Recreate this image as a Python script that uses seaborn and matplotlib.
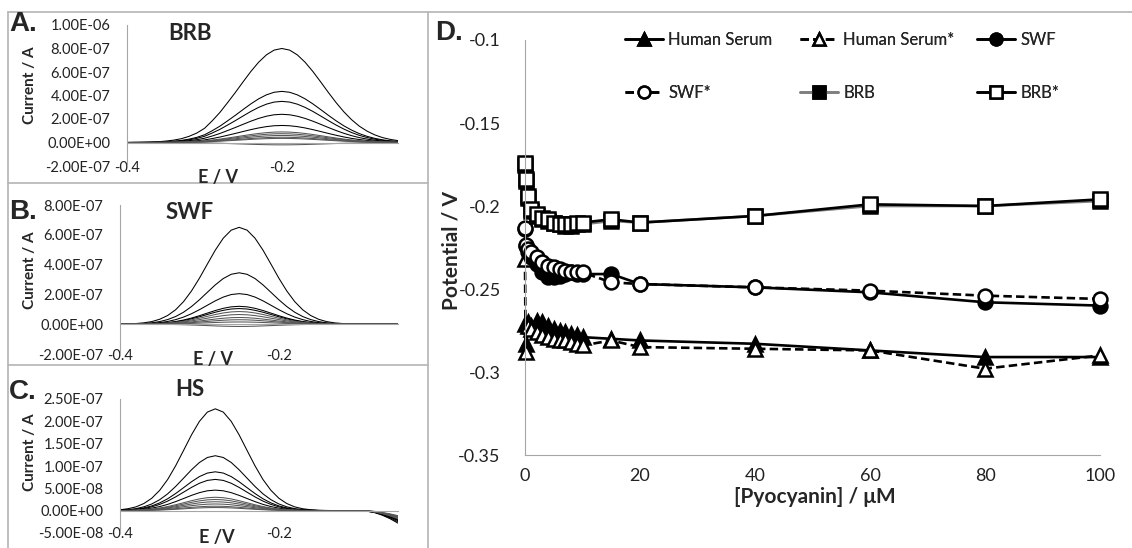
import numpy as np
import pandas as pd
import matplotlib
matplotlib.use("Agg")
import matplotlib.pyplot as plt
import matplotlib.ticker as mticker
from matplotlib.lines import Line2D
import seaborn as sns

# ---------------- panels A-C: DPV scans ----------------
e_grid = np.round(np.arange(-0.40, -0.045, 0.01), 2)   # 36 potentials, V

# normalised shape of the largest scan (E = -0.40 ... -0.05)
brb_profile = [0.000, 0.001, 0.002, 0.004, 0.008, 0.015, 0.025, 0.040, 0.065, 0.100,
               0.150, 0.230, 0.320, 0.425, 0.533, 0.646, 0.756, 0.854, 0.932, 0.983,
               1.000, 0.983, 0.932, 0.854, 0.756, 0.646, 0.533, 0.425, 0.327, 0.243,
               0.174, 0.121, 0.081, 0.052, 0.033, 0.020]
swf_profile = [0.001, 0.003, 0.007, 0.014, 0.027, 0.051, 0.090, 0.149, 0.233, 0.343,
               0.475, 0.621, 0.765, 0.888, 0.971, 1.000, 0.971, 0.888, 0.765, 0.621,
               0.475, 0.343, 0.233, 0.149, 0.090, 0.051, 0.027, 0.014, 0.007, 0.003,
               0.001, 0.000, 0.000, 0.000, 0.000, 0.000]
hs_profile = [0.009, 0.019, 0.037, 0.070, 0.122, 0.200, 0.306, 0.440, 0.591, 0.744,
              0.877, 0.968, 1.000, 0.968, 0.877, 0.744, 0.591, 0.440, 0.306, 0.200,
              0.122, 0.070, 0.037, 0.019, 0.009, 0.004, 0.002, 0.001, 0.000, 0.000,
              0.000, 0.000, 0.000, 0.000, 0.000, 0.000]
# HS scans bend down at the anodic end
hs_tail = [0.0] * 31 + [-0.1e-8, -0.4e-8, -1.0e-8, -1.8e-8, -2.8e-8]
hs_tail_scale = [1.0, 0.9, 0.8, 0.75, 0.7, 0.65, 0.6, 0.55, 0.5, 0.45, 0.4]

# peak currents, A
brb_heights = [8.0e-7, 4.35e-7, 3.5e-7, 2.4e-7, 1.45e-7, 0.9e-7, 0.75e-7, 0.6e-7, 0.45e-7, 0.35e-7, -0.2e-7]
swf_heights = [6.5e-7, 3.45e-7, 2.05e-7, 1.2e-7, 1.05e-7, 0.85e-7, 0.65e-7, 0.45e-7, 0.3e-7, 0.15e-7, -0.15e-7]
hs_heights = [2.28e-7, 1.23e-7, 0.87e-7, 0.70e-7, 0.46e-7, 0.30e-7, 0.25e-7, 0.20e-7, 0.15e-7, 0.10e-7, 0.07e-7]

# ---------------- panel D: peak potential vs concentration ----------------
conc = [0, 0.1, 0.5, 1, 2, 3, 4, 5, 6, 7, 8, 9, 10, 15, 20, 40, 60, 80, 100]
hs = [-0.271, -0.283, -0.270, -0.272, -0.269, -0.270, -0.272, -0.274, -0.275, -0.276,
      -0.277, -0.278, -0.279, -0.280, -0.281, -0.283, -0.287, -0.291, -0.291]
hs_star = [-0.232, -0.288, -0.272, -0.274, -0.276, -0.278, -0.279, -0.280, -0.281, -0.281,
           -0.282, -0.283, -0.284, -0.281, -0.285, -0.286, -0.287, -0.298, -0.290]
swf = [-0.214, -0.224, -0.228, -0.231, -0.235, -0.240, -0.243, -0.243, -0.242, -0.241,
       -0.240, -0.241, -0.241, -0.241, -0.247, -0.249, -0.252, -0.258, -0.260]
swf_star = [-0.213, -0.2235, -0.226, -0.228, -0.231, -0.234, -0.236, -0.237, -0.238, -0.239,
            -0.240, -0.240, -0.240, -0.246, -0.247, -0.249, -0.251, -0.254, -0.256]
brb = [-0.175, -0.185, -0.195, -0.203, -0.206, -0.208, -0.209, -0.210, -0.211, -0.212,
       -0.212, -0.211, -0.211, -0.209, -0.210, -0.206, -0.200, -0.200, -0.197]
brb_star = [-0.174, -0.184, -0.194, -0.202, -0.205, -0.207, -0.208, -0.210, -0.211, -0.211,
            -0.211, -0.210, -0.210, -0.208, -0.210, -0.206, -0.199, -0.200, -0.196]

sns.set_style("white")
plt.rcParams['font.family'] = ['Lato', 'DejaVu Sans']

W, H = 1132, 548
fig = plt.figure(figsize=(W / 100, H / 100), dpi=100)


def fx(px):
    return px / W


def fy(py):
    return 1 - py / H


def box(x0, y0, x1, y1):
    fig.add_artist(Line2D([fx(x0), fx(x1)], [fy(y0), fy(y1)], transform=fig.transFigure,
                          color='#b4b4b4', lw=1.2))


# panel frames
box(8, 12, 1132, 12)
box(8, 12, 8, 548)
box(428, 12, 428, 548)
box(8, 183, 428, 183)
box(8, 365, 428, 365)

axis_grey = '#a6a6a6'


def style_dpv(ax, ylo, yhi, major, minor, xpad, ypad):
    ax.set_xlim(-0.4, -0.05)
    ax.set_ylim(ylo, yhi)
    for s in ['top', 'right']:
        ax.spines[s].set_visible(False)
    ax.spines['left'].set_color(axis_grey)
    ax.spines['bottom'].set_color(axis_grey)
    ax.spines['bottom'].set_position(('data', 0))
    ax.xaxis.set_major_locator(mticker.FixedLocator([-0.4, -0.2]))
    ax.xaxis.set_minor_locator(mticker.MultipleLocator(0.04))
    ax.xaxis.set_major_formatter(mticker.FuncFormatter(lambda v, p: f"{v:g}"))
    ax.yaxis.set_major_locator(mticker.MultipleLocator(major))
    ax.yaxis.set_minor_locator(mticker.MultipleLocator(minor))
    ax.yaxis.set_major_formatter(mticker.FuncFormatter(lambda v, p: f"{v:.2E}"))
    ax.tick_params(axis='both', which='major', direction='inout', length=6, width=0.8,
                   color=axis_grey, labelsize=10.5, labelcolor='#222222')
    ax.tick_params(axis='both', which='minor', direction='in', length=3, width=0.8, color=axis_grey)
    ax.tick_params(axis='x', which='major', pad=xpad)
    ax.tick_params(axis='y', which='major', pad=ypad)
    ax.set_xlabel('')
    ax.set_ylabel('')


def draw_scans(ax, profile, heights, tail=None, tail_scale=None):
    prof = np.array(profile)
    for i, h in enumerate(heights):
        y = h * prof
        if tail is not None:
            y = y + tail_scale[i] * np.array(tail)
        col = 'black' if i < 5 else '#555555'
        sns.lineplot(x=e_grid, y=y, ax=ax, color=col, lw=0.75, estimator=None, sort=False)


axA = fig.add_axes([fx(127), fy(166), fx(398 - 127), (166 - 25) / H])
draw_scans(axA, brb_profile, brb_heights)
style_dpv(axA, -2e-7, 1e-6, 2e-7, 1e-7, xpad=10.5, ypad=9)

axB = fig.add_axes([fx(120), fy(354), fx(398 - 120), (354 - 205) / H])
draw_scans(axB, swf_profile, swf_heights)
style_dpv(axB, -2e-7, 8e-7, 2e-7, 1e-7, xpad=14.5, ypad=9)

axC = fig.add_axes([fx(120), fy(533), fx(398 - 120), (533 - 399) / H])
draw_scans(axC, hs_profile, hs_heights, hs_tail, hs_tail_scale)
style_dpv(axC, -5e-8, 2.5e-7, 5e-8, 1e-8, xpad=9, ypad=9)

# panel texts
letter_font = dict(family=['Liberation Sans', 'DejaVu Sans'], weight='bold', size=20)
fig.text(fx(9), fy(24), 'A.', va='center', ha='left', **letter_font)
fig.text(fx(9), fy(212), 'B.', va='center', ha='left', **letter_font)
fig.text(fx(9), fy(392), 'C.', va='center', ha='left', **letter_font)
fig.text(fx(435), fy(33), 'D.', va='center', ha='left', **letter_font)

for x, y, t in [(190, 33, 'BRB'), (190, 212, 'SWF'), (190, 390, 'HS')]:
    fig.text(fx(x), fy(y), t, ha='center', va='center', weight='bold', size=16)
for x, y, t in [(218, 178, 'E / V'), (213, 360, 'E / V'), (217, 538, 'E /V')]:
    fig.text(fx(x), fy(y), t, ha='center', va='center', weight='bold', size=13)
for y in [85, 270, 452]:
    fig.text(fx(30), fy(y), 'Current / A', ha='center', va='center', rotation=90,
             weight='bold', size=11)

# ---------------- panel D ----------------
axD = fig.add_axes([fx(525), fy(455), fx(1100 - 525), (455 - 40) / H])
ms, mew, lw = 10, 1.8, 1.9
dash = (0, (3.2, 1.6))
series = [
    ('Human Serum', hs, dict(color='black', ls='-', marker='^', mfc='black')),
    ('Human Serum*', hs_star, dict(color='black', ls=dash, marker='^', mfc='white')),
    ('SWF', swf, dict(color='black', ls='-', marker='o', mfc='black')),
    ('SWF*', swf_star, dict(color='black', ls=dash, marker='o', mfc='white')),
    ('BRB', brb, dict(color='#7f7f7f', ls='-', marker='s', mfc='black')),
    ('BRB*', brb_star, dict(color='black', ls='-', marker='s', mfc='white')),
]
handles = {}
for name, vals, st in series:
    sns.lineplot(x=conc, y=vals, ax=axD, color=st['color'], linestyle=st['ls'], lw=lw,
                 marker=st['marker'], markersize=ms, markerfacecolor=st['mfc'],
                 markeredgecolor='black', markeredgewidth=mew, label=name,
                 estimator=None, sort=False, clip_on=False)
    handles[name] = axD.get_lines()[-1]
if axD.get_legend() is not None:
    axD.get_legend().remove()

axD.set_xlim(0, 100)
axD.set_ylim(-0.35, -0.1)
for s in ['top', 'right']:
    axD.spines[s].set_visible(False)
axD.spines['left'].set_color(axis_grey)
axD.spines['bottom'].set_color(axis_grey)
axD.xaxis.set_major_locator(mticker.MultipleLocator(20))
axD.xaxis.set_minor_locator(mticker.MultipleLocator(4))
axD.yaxis.set_major_locator(mticker.MultipleLocator(0.05))
axD.yaxis.set_minor_locator(mticker.MultipleLocator(0.01))
axD.xaxis.set_major_formatter(mticker.FuncFormatter(lambda v, p: f"{round(v):d}"))
axD.yaxis.set_major_formatter(mticker.FuncFormatter(lambda v, p: f"{round(v, 3):g}"))
axD.tick_params(axis='both', which='major', direction='inout', length=7, width=0.9,
                color=axis_grey, labelsize=13, labelcolor='#222222')
axD.tick_params(axis='both', which='minor', direction='in', length=4, width=0.9, color=axis_grey)
axD.tick_params(axis='y', which='major', pad=14)
axD.tick_params(axis='x', which='major', pad=6)
axD.set_xlabel('')
axD.set_ylabel('')
fig.text(fx(815), fy(497), '[Pyocyanin] / \u03bcM', ha='center', va='center', weight='bold', size=15)
fig.text(fx(452), fy(250), 'Potential / V', ha='center', va='center', rotation=90,
         weight='bold', size=15)

# legend: three columns of two rows, equal column pitch
cols = [(625, ['Human Serum', 'SWF*']), (800, ['Human Serum*', 'BRB']), (977, ['SWF', 'BRB*'])]
for x0, names in cols:
    leg = fig.legend([handles[n] for n in names], names, loc='upper left',
                     bbox_to_anchor=(fx(x0), fy(32)), frameon=False, fontsize=12,
                     handlelength=2.3, handletextpad=0.3, labelspacing=2.2,
                     borderpad=0, borderaxespad=0, markerscale=0.85)
    fig.add_artist(leg)

fig.savefig('out.png', dpi=100)
